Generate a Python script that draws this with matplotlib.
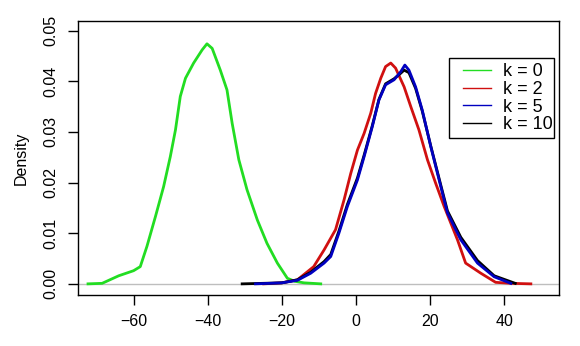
import numpy as np
import matplotlib.pyplot as plt
from matplotlib.lines import Line2D
from matplotlib.patches import Rectangle

plt.rcParams['font.family'] = ['Liberation Sans', 'DejaVu Sans']

# density curves
x_k0 = [-72.3, -68.5, -64, -60, -58.2, -56.4, -54.1, -51.9, -50.1, -48.7, -47.4, -46.0, -43.8,
        -41.5, -40.2, -38.8, -36.6, -34.8, -33.4, -31.6, -29.4, -26.6, -24.0, -21.2, -18.5,
        -16.5, -14, -9.5]
y_k0 = [0, 0.0001, 0.0016, 0.0026, 0.0034, 0.0074, 0.0133, 0.0192, 0.0251, 0.0304, 0.0370,
        0.0406, 0.0436, 0.0462, 0.0474, 0.0465, 0.0422, 0.0383, 0.0317, 0.0245, 0.0186,
        0.0126, 0.0080, 0.0041, 0.0011, 0.0005, 0.0002, 0]

x_k2 = [-24.9, -20, -15.8, -11.4, -8.6, -5.5, -3.2, -1.4, 0.4, 2.2, 4.0, 5.3, 6.7, 8.0, 9.4,
        10.7, 13.0, 14.8, 17.0, 19.3, 21.5, 23.8, 27.4, 29.6, 33.7, 37.7, 42, 47.2]
y_k2 = [0, 0.0002, 0.0008, 0.0034, 0.0067, 0.0107, 0.0166, 0.0218, 0.0264, 0.0297, 0.0337,
        0.0376, 0.0406, 0.0429, 0.0436, 0.0426, 0.0389, 0.0350, 0.0304, 0.0245, 0.0199,
        0.0153, 0.0087, 0.0041, 0.0021, 0.0003, 0.0001, 0]

x_k5 = [-27.1, -20, -15.8, -12.2, -8.6, -6.8, -4.6, -2.3, 0.4, 2.2, 4.4, 6.2, 8.0, 10.3, 12.1,
        13.2, 14.3, 16.1, 17.9, 20.2, 22.9, 24.7, 28.3, 32.8, 37.3, 41.8]
y_k5 = [0, 0.0002, 0.0007, 0.0021, 0.0041, 0.0054, 0.0100, 0.0153, 0.0205, 0.0251, 0.0310,
        0.0363, 0.0393, 0.0403, 0.0419, 0.0432, 0.0422, 0.0389, 0.0343, 0.0271, 0.0192,
        0.0140, 0.0087, 0.0041, 0.0014, 0.0001]

x_k10 = [-30.7, -20, -15.8, -12.2, -8.6, -6.8, -4.6, -2.3, 0.4, 2.2, 4.4, 6.2, 8.0, 10.3, 12.1,
         13.0, 14.3, 16.1, 17.9, 20.2, 22.9, 24.7, 28.3, 32.8, 37.3, 43]
y_k10 = [0, 0.0002, 0.0008, 0.0023, 0.0044, 0.0058, 0.0104, 0.0157, 0.0209, 0.0254, 0.0312,
         0.0364, 0.0395, 0.0405, 0.0416, 0.0422, 0.0417, 0.0386, 0.0341, 0.0272, 0.0195,
         0.0144, 0.0092, 0.0046, 0.0016, 0.0001]

labels = ['k = 0', 'k = 2', 'k = 5', 'k = 10']
colors = ['#22DD22', '#D01010', '#0000C0', 'black']

fig = plt.figure(figsize=(5.8, 3.46), dpi=100)
ax = fig.add_axes([0.1345, 0.1474, 0.8293, 0.7919])

ax.axhline(0, color='#BEBEBE', lw=1, zorder=1)
ax.plot(x_k0, y_k0, color=colors[0], lw=2)
ax.plot(x_k2, y_k2, color=colors[1], lw=2)
ax.plot(x_k10, y_k10, color=colors[3], lw=2)
ax.plot(x_k5, y_k5, color=colors[2], lw=2)

ax.set_xlim(-75, 54.8)
ax.set_ylim(-0.0022, 0.0519)
ax.set_xticks([-60, -40, -20, 0, 20, 40])
ax.set_yticks([0, 0.01, 0.02, 0.03, 0.04, 0.05])
ax.set_yticklabels(['0.00', '0.01', '0.02', '0.03', '0.04', '0.05'], rotation=90, va='center')
ax.tick_params(length=7, width=1, labelsize=11.5, pad=7)
ax.set_ylabel('Density', fontsize=11.5, labelpad=11)
for s in ax.spines.values():
    s.set_linewidth(1)

handles = [Line2D([], [], color=c, lw=1) for c in colors]
ax.legend(handles, labels, loc='upper left', bbox_to_anchor=(0.80, 0.845), frameon=False,
          fontsize=13, handlelength=1.55, handletextpad=0.68, labelspacing=0.03,
          borderpad=0, borderaxespad=0)
ax.add_patch(Rectangle((0.7713, 0.5719), 0.2189, 0.2942, transform=ax.transAxes,
                       fill=False, edgecolor='black', lw=1, clip_on=False))

fig.savefig('out.png', dpi=100)
